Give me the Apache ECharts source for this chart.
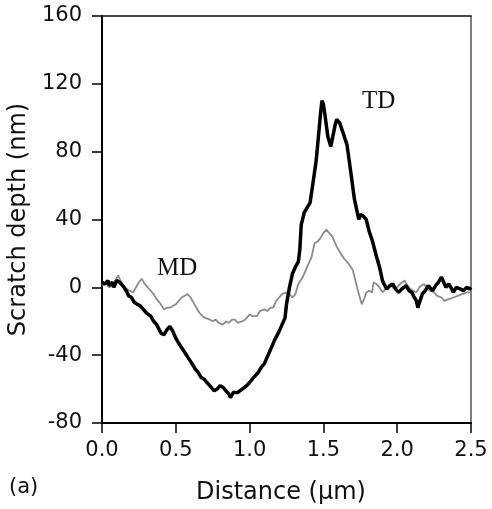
<!DOCTYPE html>
<html>
<head>
<meta charset="utf-8">
<script src="https://cdn.jsdelivr.net/npm/echarts@6/dist/echarts.min.js"></script>
<style>
  html, body { margin: 0; padding: 0; background: #fff; }
  #chart { width: 492px; height: 509px; }
</style>
</head>
<body>
<div id="chart"></div>
<script>
// TD profile (thick black)
var tdDistance = [0.00, 0.02, 0.04, 0.05, 0.07, 0.08, 0.10, 0.12, 0.13, 0.15, 0.17, 0.18, 0.20, 0.22, 0.24, 0.26, 0.28, 0.30, 0.33, 0.35,
    0.37, 0.40, 0.42, 0.44, 0.46, 0.48, 0.50, 0.52, 0.55, 0.58, 0.61, 0.63, 0.65, 0.67, 0.69, 0.71, 0.74, 0.76, 0.78, 0.80,
    0.82, 0.84, 0.86, 0.87, 0.89, 0.92, 0.95, 0.98, 1.00, 1.03, 1.06, 1.08, 1.10, 1.12, 1.14, 1.17, 1.20, 1.22, 1.24, 1.25,
    1.27, 1.29, 1.31, 1.33, 1.34, 1.35, 1.37, 1.39, 1.41, 1.43, 1.45, 1.46, 1.48, 1.49, 1.50, 1.51, 1.53, 1.55, 1.56, 1.58,
    1.59, 1.61, 1.63, 1.66, 1.69, 1.71, 1.73, 1.74, 1.75, 1.77, 1.79, 1.81, 1.83, 1.86, 1.88, 1.90, 1.91, 1.93, 1.95, 1.97,
    1.99, 2.01, 2.03, 2.06, 2.08, 2.10, 2.11, 2.13, 2.14, 2.15, 2.17, 2.19, 2.21, 2.22, 2.24, 2.26, 2.28, 2.30, 2.31, 2.33,
    2.35, 2.37, 2.38, 2.40, 2.41, 2.43, 2.45, 2.47, 2.49, 2.50];
var tdDepth = [3, 2, 4, 1, 3, 0, 4, 3, 4, 0, -3, -5, -6, -9, -10, -11, -13, -15, -17, -20,
    -22, -27, -28, -25, -23, -26, -30, -33, -37, -41, -45, -48, -50, -53, -54, -56, -59, -61, -60, -58,
    -59, -61, -63, -65, -62, -62, -60, -58, -56, -53, -50, -47, -45, -41, -37, -31, -26, -22, -18, -10,
    0, 8, 12, 15, 22, 37, 44, 47, 50, 62, 74, 83, 102, 110, 108, 102, 89, 83, 84, 96,
    99, 97, 92, 84, 65, 52, 44, 40, 43, 42, 40, 33, 28, 18, 12, 4, 2, -1, 1, 2,
    -1, -3, -1, 1, -2, -3, -5, -8, -12, -9, -4, -2, 1, 2, -2, 1, 3, 6, 4, 0,
    2, -1, -3, 0, 1, -1, -2, 0, -1, 0];

// MD profile (thin grey)
var mdDistance = [0.00, 0.03, 0.05, 0.07, 0.09, 0.11, 0.13, 0.15, 0.17, 0.19, 0.21, 0.23, 0.25, 0.27, 0.29, 0.31, 0.33, 0.35, 0.37, 0.39,
    0.42, 0.44, 0.46, 0.48, 0.50, 0.52, 0.54, 0.56, 0.58, 0.60, 0.62, 0.64, 0.66, 0.68, 0.70, 0.73, 0.75, 0.77, 0.79, 0.82,
    0.84, 0.86, 0.88, 0.90, 0.92, 0.95, 0.97, 1.00, 1.02, 1.05, 1.07, 1.10, 1.12, 1.14, 1.16, 1.18, 1.20, 1.22, 1.25, 1.27,
    1.29, 1.31, 1.33, 1.36, 1.39, 1.42, 1.44, 1.46, 1.48, 1.50, 1.52, 1.54, 1.56, 1.59, 1.61, 1.64, 1.67, 1.70, 1.72, 1.74,
    1.76, 1.78, 1.79, 1.81, 1.83, 1.84, 1.86, 1.88, 1.90, 1.92, 1.94, 1.96, 1.98, 2.00, 2.02, 2.05, 2.07, 2.09, 2.11, 2.13,
    2.15, 2.18, 2.20, 2.22, 2.25, 2.27, 2.30, 2.32, 2.35, 2.38, 2.41, 2.44, 2.47, 2.50];
var mdDepth = [1, 2, 0, 1, 4, 7, 3, 0, -1, -2, -3, 0, 3, 5, 2, 0, -2, -4, -7, -9,
    -13, -12, -12, -11, -10, -8, -6, -5, -4, -6, -9, -12, -15, -17, -18, -19, -20, -19, -21, -22,
    -20, -21, -19, -19, -21, -20, -19, -16, -17, -17, -14, -13, -14, -12, -12, -8, -6, -4, -3, -4,
    -6, -4, 2, 6, 12, 18, 26, 27, 29, 32, 34, 32, 30, 24, 21, 17, 14, 10, 3, -4,
    -10, -6, -3, -2, -3, 3, 2, 0, -3, -1, 0, 1, -1, 0, 2, 4, 1, -1, -2, -3,
    0, 2, 0, -2, -3, -5, -6, -8, -7, -6, -5, -4, -3, -3];

var xTicks = { min: 0, max: 2.5, interval: 0.5 };
var yTicks = { min: -80, max: 160, interval: 40 };

function pairs(xs, ys) {
    var out = [];
    for (var i = 0; i < xs.length; i++) {
        out.push([xs[i], ys[i]]);
    }
    return out;
}

var myChart = echarts.init(document.getElementById('chart'), null, { renderer: 'canvas' });

var tickFont = { fontFamily: 'DejaVu Sans', fontSize: 21, color: '#111' };
var titleFont = { fontFamily: 'DejaVu Sans', fontSize: 24, color: '#111' };

var option = {
    animation: false,
    backgroundColor: '#fff',
    grid: { left: 102, top: 16, right: 21, bottom: 86, containLabel: false, outerBoundsMode: 'none' },
    xAxis: [{
        type: 'value',
        min: xTicks.min,
        max: xTicks.max,
        interval: xTicks.interval,
        name: 'Distance (\u03bcm)',
        nameLocation: 'middle',
        nameGap: 58,
        nameTextStyle: Object.assign({ padding: [0, 11, 0, 0] }, titleFont),
        axisLine: { onZero: false, lineStyle: { color: '#000', width: 2 } },
        axisTick: { inside: false, length: 10, lineStyle: { color: '#000', width: 1.5 } },
        axisLabel: Object.assign({
            margin: 17,
            formatter: function (v) { return v.toFixed(1); }
        }, tickFont),
        splitLine: { show: false }
    }, {
        type: 'value',
        position: 'top',
        min: xTicks.min,
        max: xTicks.max,
        axisLine: { show: true, onZero: false, lineStyle: { color: '#111', width: 1.5 } },
        axisTick: { show: false },
        axisLabel: { show: false },
        splitLine: { show: false }
    }],
    yAxis: [{
        type: 'value',
        min: yTicks.min,
        max: yTicks.max,
        interval: yTicks.interval,
        name: 'Scratch depth (nm)',
        nameLocation: 'middle',
        nameGap: 60,
        nameRotate: 90,
        nameTextStyle: titleFont,
        axisLine: { show: true, onZero: false, lineStyle: { color: '#000', width: 2 } },
        axisTick: { show: true, inside: false, length: 10, lineStyle: { color: '#000', width: 1.5 } },
        axisLabel: Object.assign({ margin: 20 }, tickFont),
        splitLine: { show: false }
    }, {
        type: 'value',
        position: 'right',
        min: yTicks.min,
        max: yTicks.max,
        axisLine: { show: true, onZero: false, lineStyle: { color: '#555', width: 1.5 } },
        axisTick: { show: false },
        axisLabel: { show: false },
        splitLine: { show: false }
    }],
    series: [{
        name: 'MD',
        type: 'line',
        showSymbol: false,
        data: pairs(mdDistance, mdDepth),
        lineStyle: { color: '#8c8c8c', width: 1.8 },
        z: 2
    }, {
        name: 'TD',
        type: 'line',
        showSymbol: false,
        data: pairs(tdDistance, tdDepth),
        lineStyle: { color: '#000', width: 3.5 },
        z: 3
    }],
    graphic: [{
        type: 'text',
        left: 157,
        top: 256,
        style: { text: 'MD', fontFamily: 'Liberation Serif', fontSize: 25, fill: '#111' }
    }, {
        type: 'text',
        left: 362,
        top: 89,
        style: { text: 'TD', fontFamily: 'Liberation Serif', fontSize: 25, fill: '#111' }
    }, {
        type: 'text',
        left: 9,
        top: 477,
        style: { text: '(a)', fontFamily: 'DejaVu Sans', fontSize: 21, fill: '#111' }
    }]
};

myChart.setOption(option);
</script>
</body>
</html>
